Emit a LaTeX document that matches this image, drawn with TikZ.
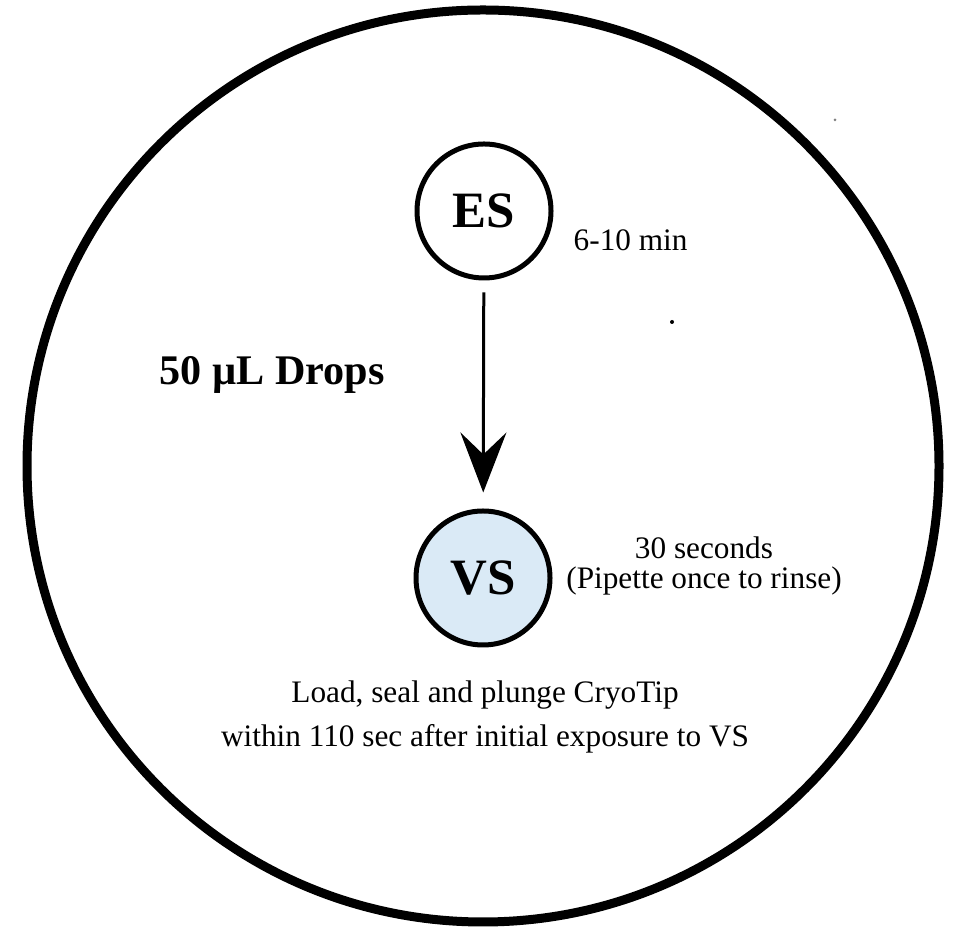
\documentclass[tikz,border=0pt]{standalone}
\usepackage{fontspec}
\setmainfont{Liberation Serif}
\usepackage{xcolor}
\usepackage{tikz}
\usetikzlibrary{arrows.meta}

\definecolor{vsblue}{HTML}{DAEAF6}

\begin{document}
\begin{tikzpicture}[
			stage/.style={circle, draw=black, line width=0.05cm, minimum size=1.34cm, inner sep=0pt, font=\fontsize{14.5}{16}\selectfont\bfseries},
			note/.style={font=\fontsize{8.9}{8.4}\selectfont, align=center, inner sep=0pt},
			arrow/.style={-{Stealth[length=0.6cm, width=0.46cm, inset=0.22cm]}, line width=0.03cm, shorten <=0.12cm, shorten >=0.16cm}
		]
		\useasboundingbox (0,0) rectangle (9.53,9.30);

		% Dish
		\node[circle, draw=black, line width=0.09cm, minimum size=9.12cm, inner sep=0pt] (dish) at (4.83,4.64) {};

		% Stages
		\node[stage] (es) at (4.84,7.19) {ES};
		\node[stage, fill=vsblue] (vs) at (4.83,3.52) {VS};

		% Labels
		\node[note, anchor=west] (estime) at (5.73,6.90) {6-10 min};
		\node[font=\fontsize{12}{14}\selectfont\bfseries, inner sep=0pt] (drops) at (2.72,5.55) {50 µL Drops};
		\node[note] (vstime) at (7.04,3.64) {30 seconds\\(Pipette once to rinse)};
		\node[note, font=\fontsize{8.9}{12.7}\selectfont] (load) at (4.85,2.13) {Load, seal and plunge CryoTip\\within 110 sec after initial exposure to VS};

		% Specks
		\fill[black!50] (8.35,8.10) circle (0.015);
		\fill (6.72,6.08) circle (0.02);

		% Arrows
		\draw[arrow] (es) -- (vs);

	\end{tikzpicture}
\end{document}
